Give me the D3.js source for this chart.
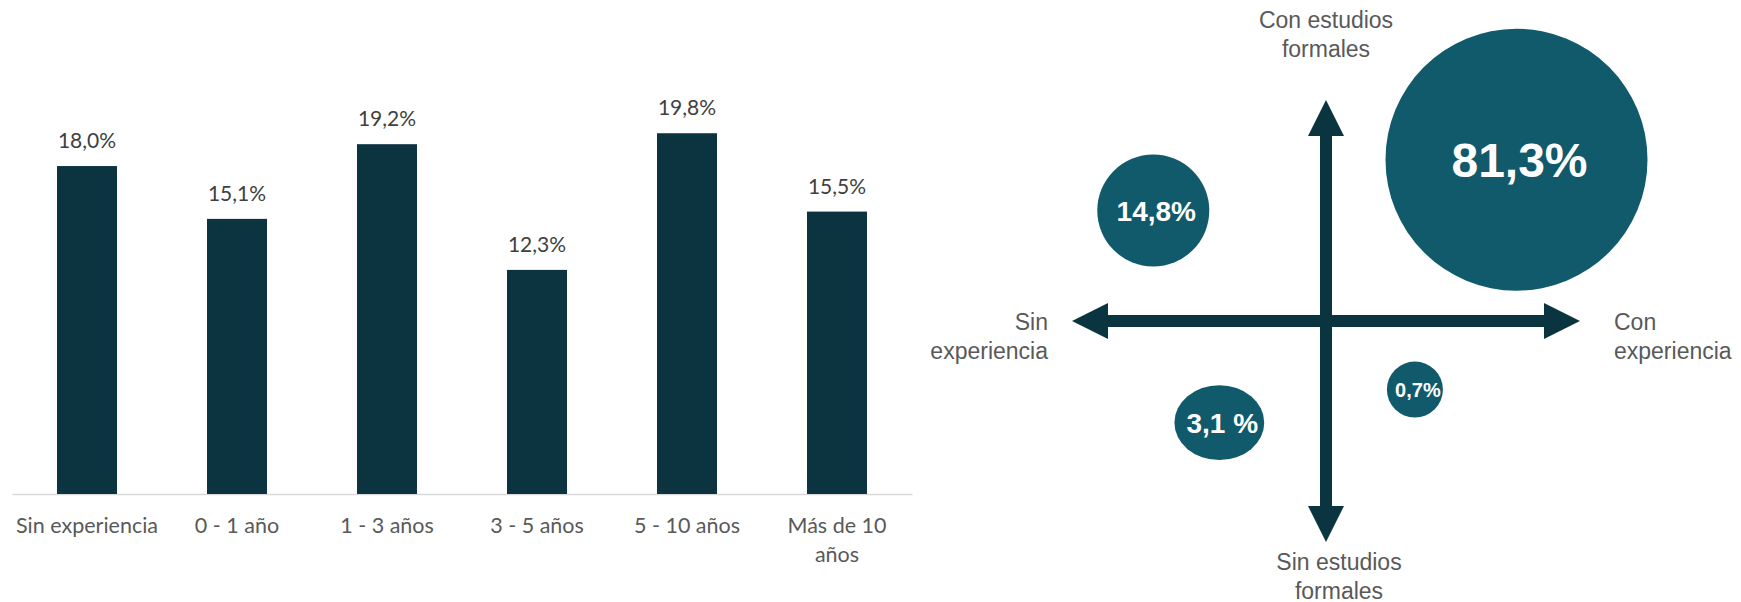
<!DOCTYPE html>
<html><head><meta charset="utf-8">
<script src="https://cdn.jsdelivr.net/npm/d3@7"></script>
<style>body{margin:0;background:#fff}svg{display:block}</style>
</head><body>
<svg id="c" width="1741" height="602"></svg>
<script>
// ---- Bar chart data ----
const categories = ["Sin experiencia","0 - 1 año","1 - 3 años","3 - 5 años","5 - 10 años","Más de 10 años"];
const tickLabels = ["Sin experiencia","0 - 1 año","1 - 3 años","3 - 5 años","5 - 10 años","Más de 10\naños"];
const values = [18.0, 15.1, 19.2, 12.3, 19.8, 15.5];
const valueLabels = ["18,0%","15,1%","19,2%","12,3%","19,8%","15,5%"];

// ---- Quadrant bubble data ----
const bubbleLabels = ["81,3%","14,8%","3,1 %","0,7%"];
const bubbleValues = [81.3, 14.8, 3.1, 0.7];
const bubbleExperience = [0.75, -0.68, -0.42, 0.35];   // -1 = sin experiencia, 1 = con experiencia
const bubbleStudies = [0.73, 0.50, -0.46, -0.31];      // -1 = sin estudios, 1 = con estudios
const bubbleStretch = [1, 1, 1.2, 1];
const axisTop = ["Con estudios","formales"];
const axisBottom = ["Sin estudios","formales"];
const axisLeft = ["Sin","experiencia"];
const axisRight = ["Con","experiencia"];

const svg = d3.select("#c");
const BAR = "#0b3340", TEAL = "#105a6b", ARROW = "#0b3441";

// ---------- Bar chart ----------
const x = d3.scaleBand().domain(categories).range([12, 912]).paddingInner(0.6).paddingOuter(0.3);
const y = d3.scaleLinear().domain([0, 20]).range([494, 129.6]);

const gAxis = svg.append("g").attr("transform", "translate(0," + y(0) + ")")
  .call(d3.axisBottom(x).tickSize(0).tickSizeOuter(0).tickFormat((d, i) => tickLabels[i]));
gAxis.select(".domain").attr("stroke", "#d9d9d9").attr("stroke-width", 1.5);
gAxis.selectAll(".tick text").each(function(d, i) {
  const t = d3.select(this);
  const lines = tickLabels[i].split("\n");
  t.text(null).attr("y", 0).attr("dy", null)
    .attr("font-family", "Lato, 'Open Sans', sans-serif").attr("font-size", 21.5).attr("fill", "#595959");
  lines.forEach((ln, k) => t.append("tspan").attr("x", 0).attr("y", 39 + k * 29).text(ln));
});

svg.append("g").selectAll("rect").data(values).join("rect")
  .attr("x", (d, i) => x(categories[i]))
  .attr("width", x.bandwidth())
  .attr("y", d => y(d))
  .attr("height", d => y(0) - y(d))
  .attr("fill", BAR);

svg.append("g").selectAll("text").data(values).join("text")
  .attr("x", (d, i) => x(categories[i]) + x.bandwidth() / 2)
  .attr("y", d => y(d) - 18)
  .attr("text-anchor", "middle")
  .attr("font-family", "Lato, 'Open Sans', sans-serif").attr("font-size", 21)
  .attr("fill", "#404040")
  .text((d, i) => valueLabels[i]);

// ---------- Quadrant ----------
const qx = d3.scaleLinear().domain([-1, 1]).range([1072, 1580]);
const qy = d3.scaleLinear().domain([-1, 1]).range([542, 100]);
const head = 36, halfHead = 18, shaft = 12;
const cx0 = qx(0), cy0 = qy(0);
const gq = svg.append("g");

// horizontal double arrow
const hp = d3.path();
hp.moveTo(qx(-1), cy0);
hp.lineTo(qx(-1) + head, cy0 - halfHead);
hp.lineTo(qx(-1) + head, cy0 - shaft / 2);
hp.lineTo(qx(1) - head, cy0 - shaft / 2);
hp.lineTo(qx(1) - head, cy0 - halfHead);
hp.lineTo(qx(1), cy0);
hp.lineTo(qx(1) - head, cy0 + halfHead);
hp.lineTo(qx(1) - head, cy0 + shaft / 2);
hp.lineTo(qx(-1) + head, cy0 + shaft / 2);
hp.lineTo(qx(-1) + head, cy0 + halfHead);
hp.closePath();
gq.append("path").attr("d", hp.toString()).attr("fill", ARROW);

// vertical double arrow
const vp = d3.path();
vp.moveTo(cx0, qy(1));
vp.lineTo(cx0 + halfHead, qy(1) + head);
vp.lineTo(cx0 + shaft / 2, qy(1) + head);
vp.lineTo(cx0 + shaft / 2, qy(-1) - head);
vp.lineTo(cx0 + halfHead, qy(-1) - head);
vp.lineTo(cx0, qy(-1));
vp.lineTo(cx0 - halfHead, qy(-1) - head);
vp.lineTo(cx0 - shaft / 2, qy(-1) - head);
vp.lineTo(cx0 - shaft / 2, qy(1) + head);
vp.lineTo(cx0 - halfHead, qy(1) + head);
vp.closePath();
gq.append("path").attr("d", vp.toString()).attr("fill", ARROW);

// bubbles
const rScale = d3.scaleLinear().domain([0.7, 3.1, 14.8, 81.3]).range([28, 41, 56, 131]);
const fScale = d3.scaleLinear().domain([28, 41, 56, 131]).range([20, 28, 28, 48]);
gq.selectAll("ellipse").data(bubbleValues).join("ellipse")
  .attr("cx", (d, i) => qx(bubbleExperience[i]))
  .attr("cy", (d, i) => qy(bubbleStudies[i]))
  .attr("rx", (d, i) => rScale(d) * Math.sqrt(bubbleStretch[i]))
  .attr("ry", (d, i) => rScale(d) / Math.sqrt(bubbleStretch[i]))
  .attr("fill", TEAL);
gq.selectAll("text.b").data(bubbleValues).join("text").attr("class", "b")
  .attr("x", (d, i) => qx(bubbleExperience[i]) + 3)
  .attr("y", (d, i) => qy(bubbleStudies[i]))
  .attr("dy", "0.36em")
  .attr("text-anchor", "middle")
  .attr("font-family", "'Liberation Sans', Arial, sans-serif")
  .attr("font-weight", "bold")
  .attr("font-size", d => fScale(rScale(d)))
  .attr("fill", "#fff")
  .text((d, i) => bubbleLabels[i]);

// axis labels
function label(lines, xPos, yBase, anchor) {
  const t = gq.append("text").attr("text-anchor", anchor)
    .attr("font-family", "'Liberation Sans', Arial, sans-serif")
    .attr("font-size", 23).attr("fill", "#595959");
  lines.forEach((ln, k) => t.append("tspan").attr("x", xPos).attr("y", yBase + k * 28.5).text(ln));
}
label(axisTop, cx0, qy(1) - 72, "middle");
label(axisBottom, cx0 + 13, qy(-1) + 28, "middle");
label(axisLeft, qx(-1) - 24, cy0 + 9, "end");
label(axisRight, qx(1) + 34, cy0 + 9, "start");
</script>
</body></html>
